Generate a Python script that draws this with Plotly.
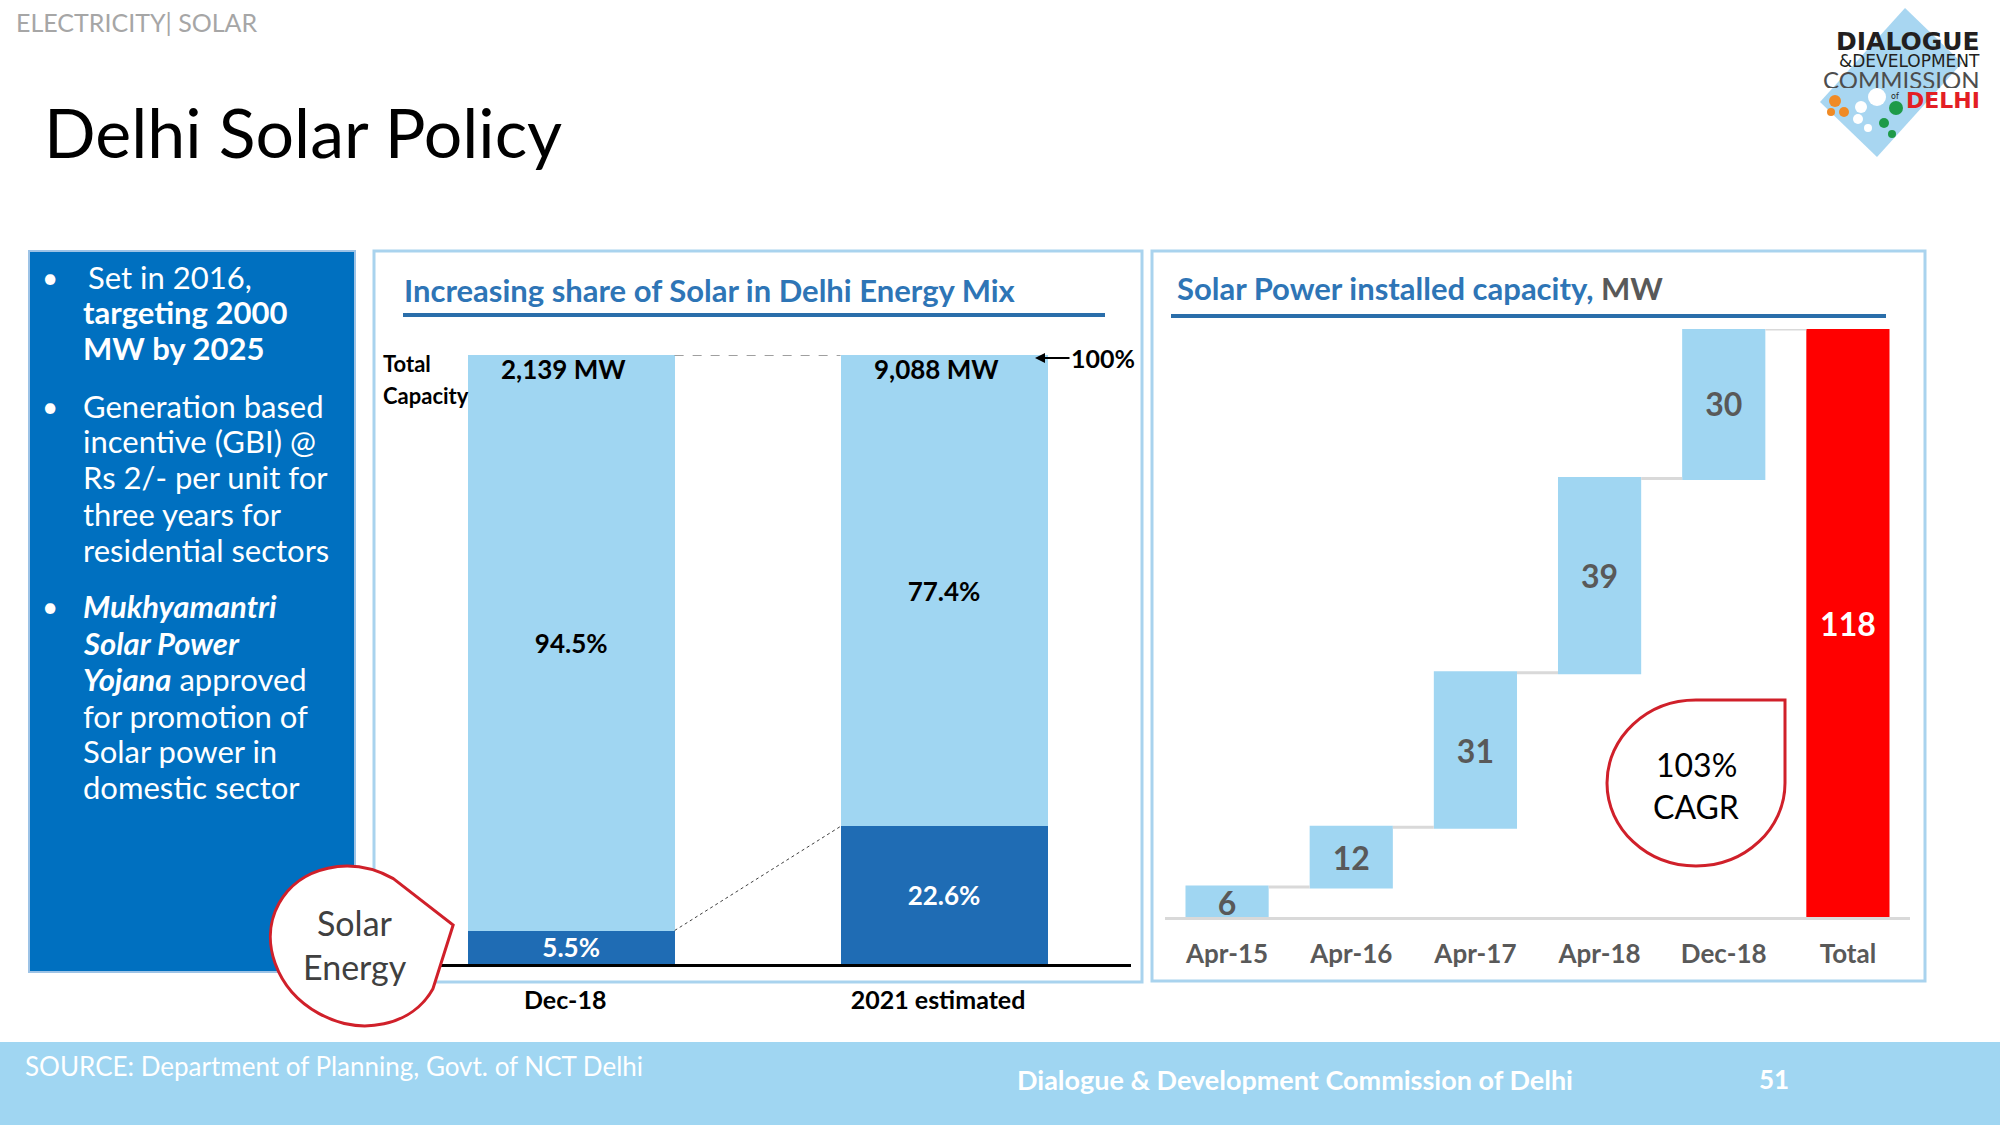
import math
import plotly.graph_objects as go

# ---------------- data ----------------
mix_categories = ["Dec-18", "2021 estimated"]
solar_share = [5.5, 22.6]          # % of total capacity
other_share = [94.5, 77.4]         # % of total capacity
total_capacity_mw = [2139, 9088]

cap_categories = ["Apr-15", "Apr-16", "Apr-17", "Apr-18", "Dec-18", "Total"]
cap_increments = [6, 12, 31, 39, 30]   # MW added in each period
cap_measures = ["relative"] * 5 + ["total"]

bullet_lines = [
    ["Set in 2016,", "<b>targeting 2000</b>", "<b>MW by 2025</b>"],
    ["Generation based", "incentive (GBI) @", "Rs 2/- per unit for",
     "three years for", "residential sectors"],
    ["<b><i>Mukhyamantri</i></b>", "<b><i>Solar Power</i></b>",
     "<b><i>Yojana</i></b> approved", "for promotion of",
     "Solar power in", "domestic sector"],
]

# ---------------- style ----------------
W, H = 2000, 1125
FONT = "Lato, 'Open Sans', sans-serif"
LOGO_FONT = "'DejaVu Sans', sans-serif"
DARK = "#1F6CB4"
LIGHT = "#A0D6F2"
BOX_BLUE = "#0070C0"
PANEL_LINE = "#A9D3EE"
TITLE_BLUE = "#2E75B6"
RULE_BLUE = "#2A6EAA"
GRAY = "#595959"
RED_LINE = "#D0202A"


def px(x):
    return x / W


def py(y):
    return 1 - y / H


def path_from(cmds):
    out = []
    for c in cmds:
        if c[0] == "Z":
            out.append("Z")
        else:
            pts = " ".join(f"{px(x):.5f},{py(y):.5f}" for x, y in c[1:])
            out.append(f"{c[0]} {pts}")
    return " ".join(out)


def teardrop(cx, cy, rx, ry, rot_deg=0.0, corner=1.0):
    k = 0.5523
    a = math.radians(rot_deg)
    ca, sa = math.cos(a), math.sin(a)

    def T(u, v):
        x, y = u * rx, v * ry
        return (cx + x * ca - y * sa, cy + x * sa + y * ca)

    cmds = [
        ("M", T(0, -1)),
        ("L", T(corner, -corner)),
        ("L", T(1, 0)),
        ("C", T(1, k), T(k, 1), T(0, 1)),
        ("C", T(-k, 1), T(-1, k), T(-1, 0)),
        ("C", T(-1, -k), T(-k, -1), T(0, -1)),
        ("Z",),
    ]
    return path_from(cmds)


fig = go.Figure()

# ---------------- middle chart: stacked share ----------------
fig.add_trace(go.Bar(
    x=mix_categories, y=solar_share, name="Solar",
    marker=dict(color=DARK, line=dict(width=0)), width=0.555,
    texttemplate="<b>%{y:.1f}%</b>", textposition="inside", textangle=0,
    insidetextanchor="middle", constraintext="none",
    textfont=dict(color="white", size=26, family=FONT),
    xaxis="x", yaxis="y", hoverinfo="skip",
))
fig.add_trace(go.Bar(
    x=mix_categories, y=other_share, name="Other",
    marker=dict(color=LIGHT, line=dict(width=0)), width=0.555,
    texttemplate="<b>%{y:.1f}%</b>", textposition="inside", textangle=0,
    insidetextanchor="middle", constraintext="none",
    textfont=dict(color="black", size=26, family=FONT),
    xaxis="x", yaxis="y", hoverinfo="skip",
))

# ---------------- right chart: waterfall ----------------
cap_total = sum(cap_increments)
cap_y = cap_increments + [cap_total]
cap_text = [f"<b>{v}</b>" for v in cap_y]
fig.add_trace(go.Waterfall(
    x=cap_categories, y=cap_y, measure=cap_measures,
    text=cap_text, textposition="inside", insidetextanchor="middle",
    textangle=0, constraintext="none",
    textfont=dict(size=32, family=FONT, color=[GRAY] * 5 + ["white"]),
    increasing=dict(marker=dict(color=LIGHT)),
    totals=dict(marker=dict(color="#FF0000")),
    connector=dict(line=dict(color="#D9D9D9", width=3), mode="between"),
    xaxis="x2", yaxis="y2", hoverinfo="skip",
))

shapes = []
# panels
shapes.append(dict(type="rect", xref="paper", yref="paper", layer="below",
                   x0=px(29), x1=px(355), y0=py(972), y1=py(251),
                   fillcolor=BOX_BLUE, line=dict(color="#9DC3E6", width=2)))
shapes.append(dict(type="rect", xref="paper", yref="paper", layer="below",
                   x0=px(374), x1=px(1142), y0=py(982), y1=py(251),
                   fillcolor="white", line=dict(color=PANEL_LINE, width=3)))
shapes.append(dict(type="rect", xref="paper", yref="paper", layer="below",
                   x0=px(1152), x1=px(1925), y0=py(981), y1=py(251),
                   fillcolor="white", line=dict(color=PANEL_LINE, width=3)))
# title rules
shapes.append(dict(type="line", xref="paper", yref="paper",
                   x0=px(403), x1=px(1105), y0=py(315), y1=py(315),
                   line=dict(color=RULE_BLUE, width=4)))
shapes.append(dict(type="line", xref="paper", yref="paper",
                   x0=px(1171), x1=px(1886), y0=py(316), y1=py(316),
                   line=dict(color=RULE_BLUE, width=4)))
# footer band
shapes.append(dict(type="rect", xref="paper", yref="paper", layer="below",
                   x0=0, x1=1, y0=0, y1=py(1042),
                   fillcolor="#A0D6F2", line=dict(width=0)))
# connectors on share chart
half = 0.555 / 2
shapes.append(dict(type="line", xref="x", yref="y",
                   x0=half, x1=1 - half, y0=100, y1=100,
                   line=dict(color="#404040", width=1, dash="dash")))
shapes.append(dict(type="line", xref="x", yref="y",
                   x0=half, x1=1 - half, y0=solar_share[0], y1=solar_share[1],
                   line=dict(color="#404040", width=1, dash="dot")))
# callouts
shapes.append(dict(type="path", xref="paper", yref="paper", layer="above",
                   path=teardrop(356, 946, 88, 77, rot_deg=29, corner=0.85),
                   fillcolor="white", line=dict(color=RED_LINE, width=3)))
shapes.append(dict(type="path", xref="paper", yref="paper", layer="above",
                   path=teardrop(1696, 783, 89, 83),
                   fillcolor="white", line=dict(color=RED_LINE, width=3)))
# logo diamond
shapes.append(dict(type="path", xref="paper", yref="paper", layer="below",
                   path=path_from([("M", (1905, 8)), ("L", (1962, 63)),
                                   ("L", (1877, 157)), ("L", (1820, 102)), ("Z",)]),
                   fillcolor="#A8D6F1", line=dict(width=0)))
for (cx, cy, r, col) in [(1835, 101, 6, "#F08A24"), (1844, 112, 5, "#F08A24"),
                         (1831, 112, 4, "#F08A24"),
                         (1877, 97, 9, "white"), (1861, 107, 6, "white"),
                         (1858, 119, 5, "white"), (1868, 128, 4, "white"),
                         (1896, 108, 7, "#1E9A48"), (1884, 123, 5, "#1E9A48"),
                         (1892, 134, 4, "#1E9A48")]:
    shapes.append(dict(type="circle", xref="paper", yref="paper",
                       x0=px(cx - r), x1=px(cx + r), y0=py(cy + r), y1=py(cy - r),
                       fillcolor=col, line=dict(width=0)))

ann = []


def add(text, x, y, size, color="black", xanchor="center", yanchor="middle",
        family=FONT, **kw):
    d = dict(text=text, x=px(x), y=py(y), xref="paper", yref="paper",
             showarrow=False, xanchor=xanchor, yanchor=yanchor,
             font=dict(size=size, color=color, family=family))
    d.update(kw)
    ann.append(d)


# header & title
add("ELECTRICITY| SOLAR", 14, 22, 25, "#A6A6A6", xanchor="left")
add("Delhi Solar Policy", 42, 131, 68, "black", xanchor="left")

# bullets
bullet_y = [[277, 312, 348], [406, 441, 477, 514, 550], [606, 643, 679, 716, 751, 787]]
for block, ys in zip(bullet_lines, bullet_y):
    add("•", 50, ys[0], 28, "white")
    for i, (t, yy) in enumerate(zip(block, ys)):
        xs = 86 if (i == 0 and block is bullet_lines[0]) else 81
        add(t, xs, yy, 31, "white", xanchor="left")

# chart titles
add("<b>Increasing share of Solar in Delhi Energy Mix</b>", 402, 290, 31, TITLE_BLUE, xanchor="left")
add("<b>Solar Power installed capacity,</b><b><span style='color:#595959'> MW</span></b>",
    1175, 288, 31, TITLE_BLUE, xanchor="left")

# total capacity labels
add("<b>Total</b>", 381, 363, 22, "black", xanchor="left")
add("<b>Capacity</b>", 381, 395, 22, "black", xanchor="left")
for i, v in enumerate(total_capacity_mw):
    ann.append(dict(text=f"<b>{v:,} MW</b>", x=i, y=100, xref="x", yref="y",
                    showarrow=False, yanchor="middle", yshift=-14, xshift=-8,
                    font=dict(size=26, color="black", family=FONT)))
# 100% arrow
ann.append(dict(text="<b>100%</b>", x=px(1035), y=py(358), xref="paper", yref="paper",
                showarrow=True, ax=68, ay=0, arrowhead=2, arrowsize=1, arrowwidth=2,
                arrowcolor="black", standoff=0,
                font=dict(size=25, color="black", family=FONT)))

# callout texts
add("Solar", 355, 922, 34, "#404040")
add("Energy", 355, 966, 34, "#404040")
add("103%", 1696, 764, 32, "black")
add("CAGR", 1696, 806, 32, "black")

# footer
add("SOURCE: Department of Planning, Govt. of NCT Delhi", 23, 1066, 26, "white", xanchor="left")
add("<b>Dialogue & Development Commission of Delhi</b>", 1015, 1079, 27, "white", xanchor="left")
add("<b>51</b>", 1774, 1079, 26, "white")

# logo text
add("<b>DIALOGUE</b>", 1982, 42, 25, "#231F20", xanchor="right", family=LOGO_FONT, height=19)
add("&DEVELOPMENT", 1982, 61, 17, "#231F20", xanchor="right", family=LOGO_FONT, height=16)
add("COMMISSION", 1982, 79, 24, "#4D4D4D", xanchor="right", height=18)
add("of", 1901, 96, 8, "#231F20", xanchor="right", family=LOGO_FONT)
add("<b>DELHI</b>", 1982, 100, 22, "#E31E24", xanchor="right", family=LOGO_FONT, height=18)

fig.update_layout(
    width=W, height=H, margin=dict(l=0, r=0, t=0, b=0),
    paper_bgcolor="white", plot_bgcolor="rgba(0,0,0,0)",
    showlegend=False, barmode="stack", waterfallgap=0.33,
    font=dict(family=FONT),
    xaxis=dict(domain=[px(422), px(1130.5)], anchor="y", range=[-0.4, 1.5],
               showgrid=False, zeroline=False, showline=True, linecolor="black",
               linewidth=3, ticks="outside", ticklen=12, tickcolor="rgba(0,0,0,0)",
               ticklabelshift=-6,
               tickfont=dict(size=25, color="black", family=FONT, weight="bold")),
    yaxis=dict(domain=[py(964), py(355)], anchor="x", range=[0, 100], visible=False),
    xaxis2=dict(domain=[px(1165), px(1910)], anchor="y2", range=[-0.5, 5.5],
                showgrid=False, zeroline=False, showline=True, linecolor="#D9D9D9",
                linewidth=3, ticks="outside", ticklen=12, tickcolor="rgba(0,0,0,0)",
                tickfont=dict(size=26, color=GRAY, family=FONT, weight="bold")),
    yaxis2=dict(domain=[py(917), py(329)], anchor="x2", range=[0, cap_total], visible=False),
    shapes=shapes, annotations=ann,
)

fig.write_html("out.html", config={"displayModeBar": False},
               post_script="document.body.style.margin='0';document.body.style.overflow='hidden';")
